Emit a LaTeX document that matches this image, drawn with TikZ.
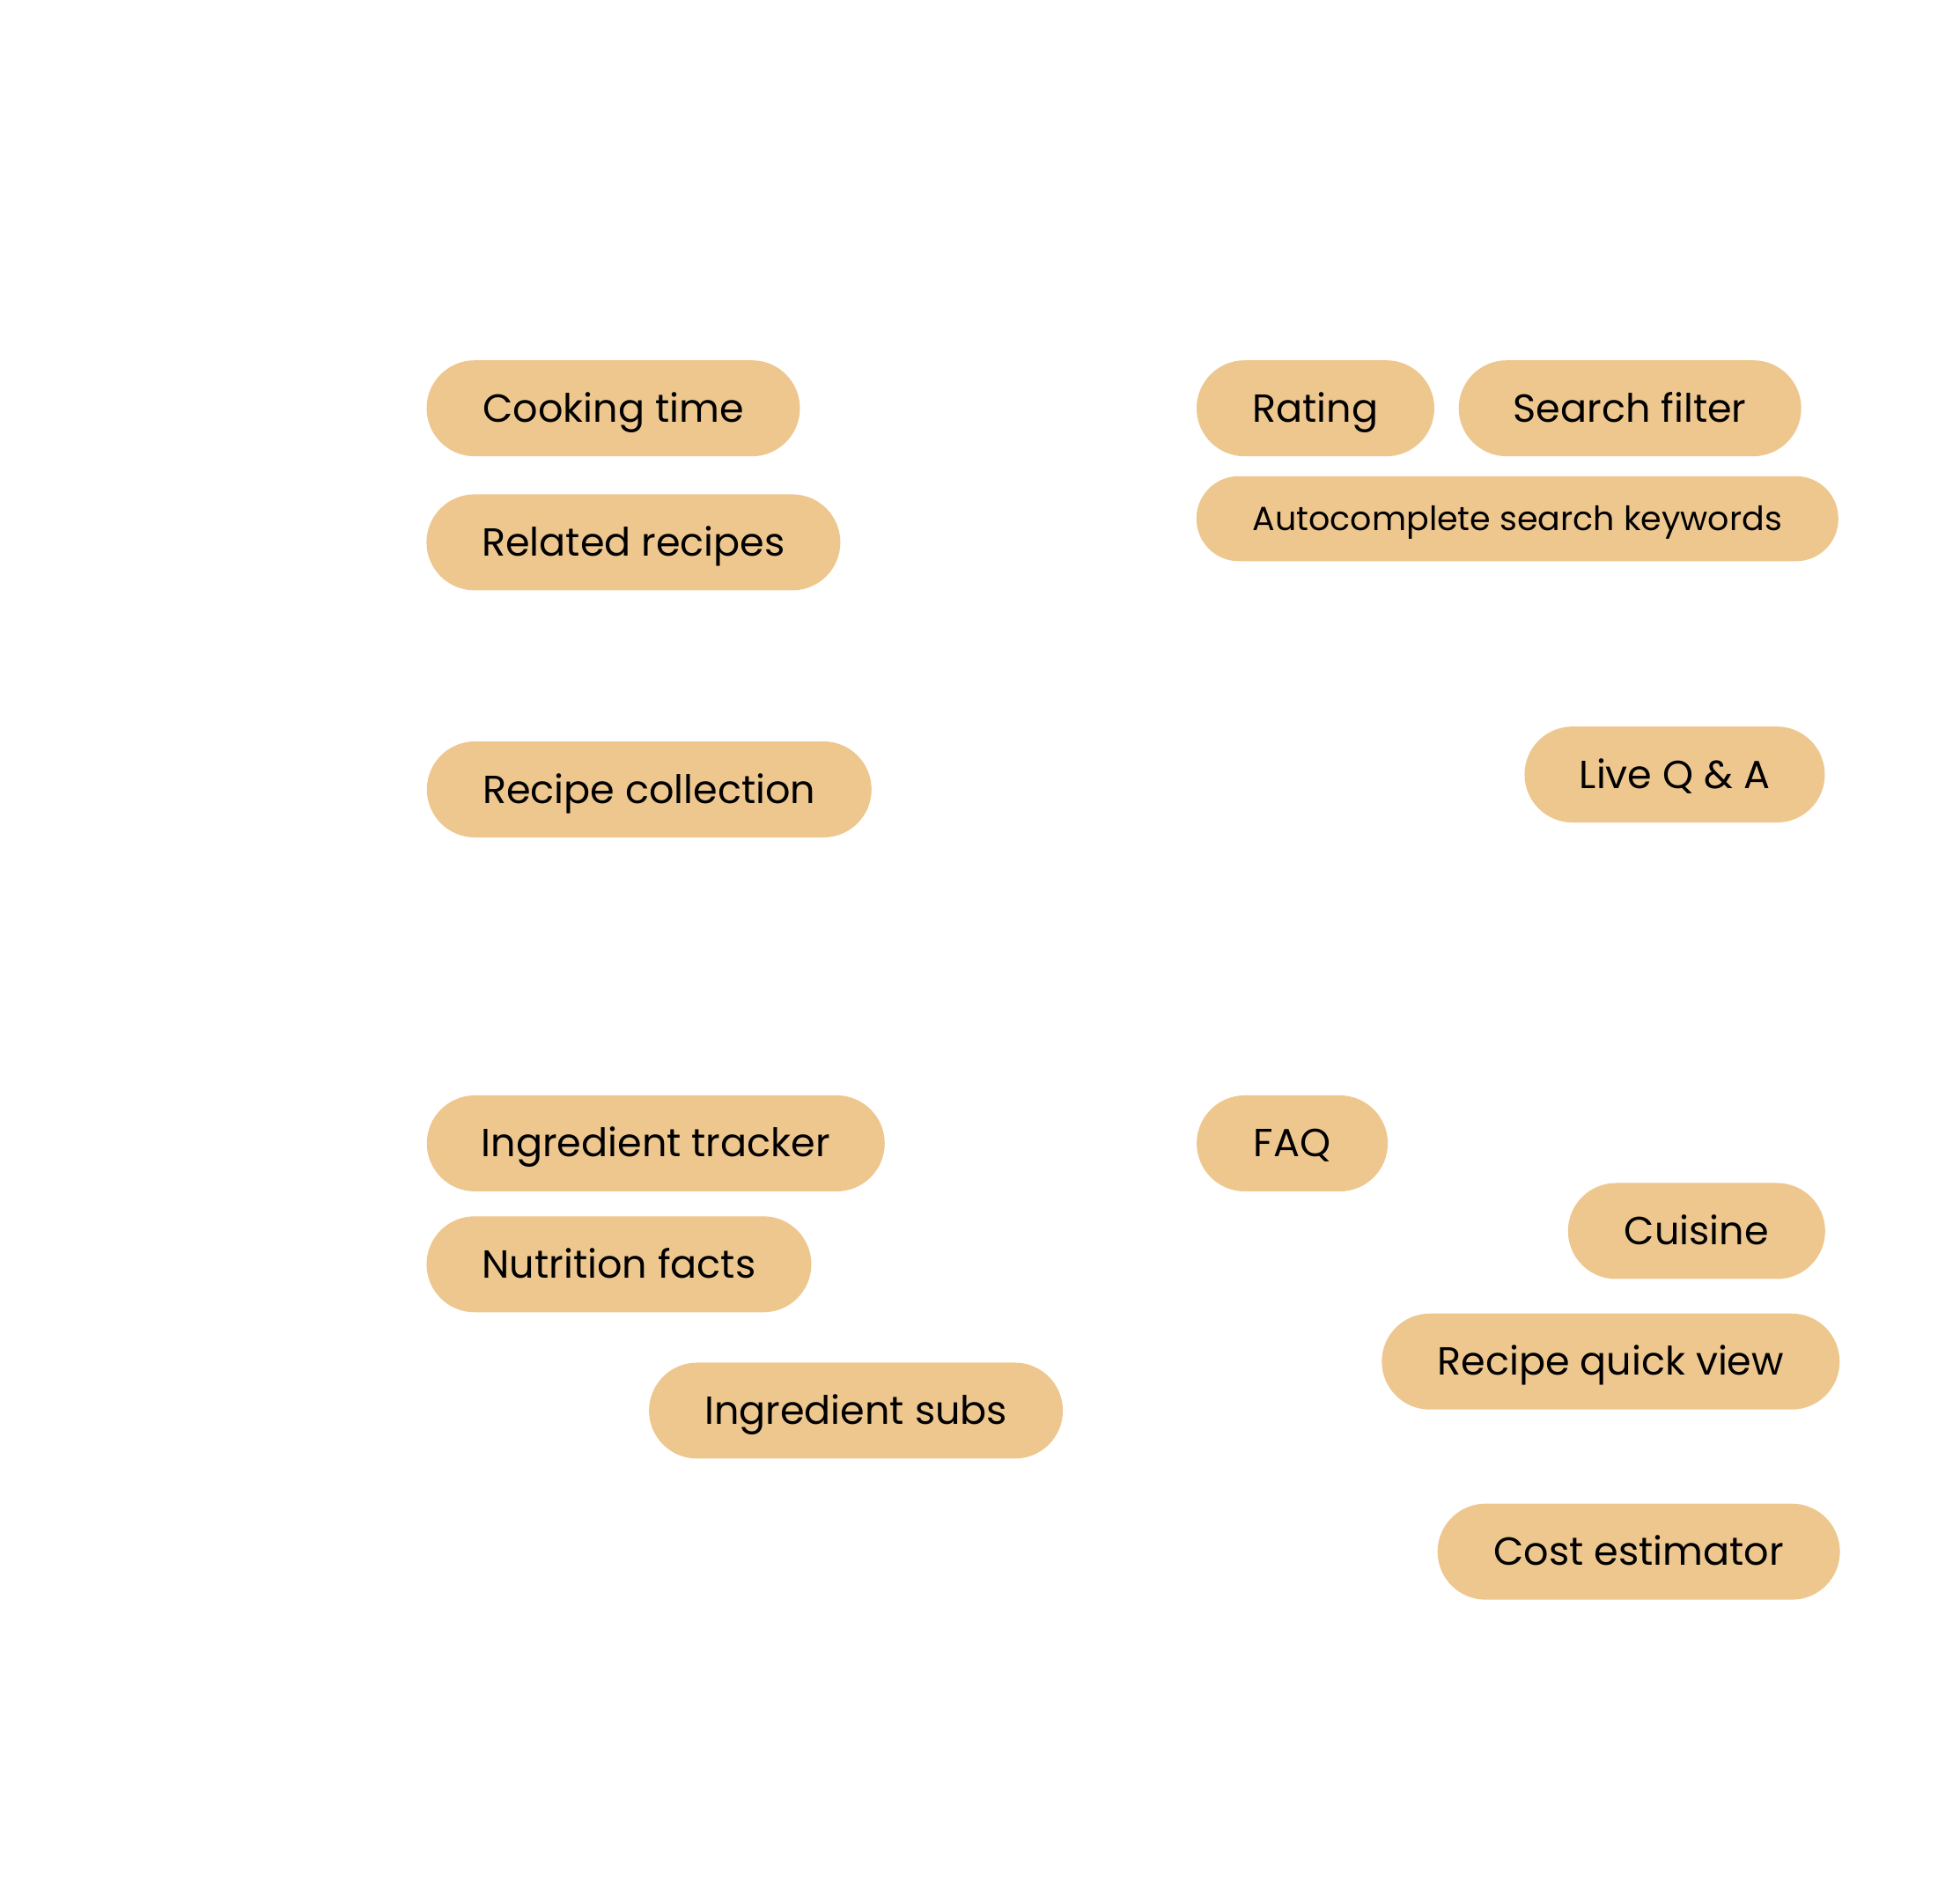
\documentclass[tikz,border=0pt]{standalone}
\usepackage{fontspec}
\setmainfont{Poppins}
\definecolor{pillfill}{RGB}{238,199,143}
\tikzset{
  pill/.style={draw=none, fill=pillfill, rounded corners=54.5pt, minimum height=109pt, inner sep=0pt, text=black, font=\fontsize{44.5}{54}\selectfont, text height=31pt, text depth=0pt, anchor=center},
  smallpill/.style={pill, rounded corners=48pt, minimum height=96.5pt, font=\fontsize{38}{46}\selectfont, text height=26.6pt},
  ghost/.style={text=white, inner sep=0pt, anchor=base west}
}
\begin{document}
\begin{tikzpicture}[x=0.995pt,y=-0.995pt]
\useasboundingbox (0,0) rectangle (2237.2,2170.85);
\fill[white] (0,0) rectangle (2237.2,2170.85);
% ghost labels (white)
\node[ghost, font=\fontsize{57}{68}\selectfont] (hightop) at (202,215) {High};
\node[ghost, font=\fontsize{63}{76}\selectfont] (quick) at (490,315) {Quick Wins};
\node[ghost, font=\fontsize{63}{76}\selectfont] (major) at (1363,315) {Major Projects};
\node[ghost, font=\fontsize{79}{94}\selectfont] (impact) at (69,1048) {Impact};
\node[ghost, font=\fontsize{71}{85}\selectfont] (fillins) at (493,1188) {Fill-ins};
\node[ghost, font=\fontsize{63}{76}\selectfont] (rethink) at (1375,1187) {Rethink};
\node[ghost, font=\fontsize{50}{60}\selectfont] (lowleft) at (227,1902) {Low};
\node[ghost, font=\fontsize{60}{72}\selectfont] (lowbottom) at (420,2082) {Low};
\node[ghost, font=\fontsize{71}{85}\selectfont] (effort) at (1199,2067) {Effort};
\node[ghost, font=\fontsize{60}{72}\selectfont] (highbottom) at (2055,2060) {High};
% pills
\node[pill, minimum width=424pt] (cooking) at (700,466) {Cooking time};
\node[pill, minimum width=470pt] (related) at (723,619) {Related recipes};
\node[pill, minimum width=505pt] (collection) at (741,901) {Recipe collection};
\node[pill, minimum width=270pt] (rating) at (1501.5,466) {Rating};
\node[pill, minimum width=389pt] (search) at (1860.5,466) {Search filter};
\node[smallpill, minimum width=729pt] (autocomplete) at (1732,592) {Autocomplete search keywords};
\node[pill, minimum width=341pt] (liveqa) at (1911.5,884) {Live Q \& A};
\node[pill, minimum width=520pt] (tracker) at (748.5,1305) {Ingredient tracker};
\node[pill, minimum width=437pt] (nutrition) at (706.5,1443) {Nutrition facts};
\node[pill, minimum width=470pt] (subs) at (977,1610) {Ingredient subs};
\node[pill, minimum width=217pt] (faq) at (1475,1305) {FAQ};
\node[pill, minimum width=292pt] (cuisine) at (1936.5,1405) {Cuisine};
\node[pill, minimum width=520pt] (quickview) at (1838.5,1554) {Recipe quick view};
\node[pill, minimum width=457pt] (cost) at (1870.5,1771) {Cost estimator};
\end{tikzpicture}
\end{document}
